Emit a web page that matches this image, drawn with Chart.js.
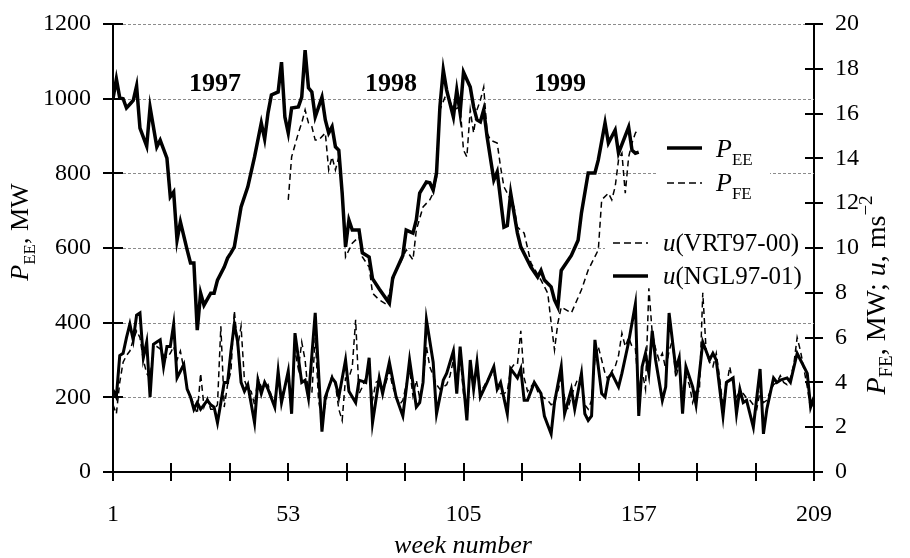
<!DOCTYPE html>
<html>
<head>
<meta charset="utf-8">
<script src="https://cdn.jsdelivr.net/npm/chart.js@4.4.0/dist/chart.umd.min.js"></script>
<style>
  html, body { margin: 0; padding: 0; background: #fff; }
  #wrap { width: 910px; height: 558px; }
</style>
</head>
<body>
<div id="wrap"><canvas id="weeklyChart" width="910" height="558"></canvas></div>
<script>
// Values (week number -> value)
const peeWeeks = [1,2,3,4,5,6,7,8,9,11,12,14,15,17,18,19,20,21,23,24,25,26,27,28,30,31,32,34,35,36,37,39,41,43,45,46,47,48,50,51,52,53,54,56,57,58,59,60,61,63,64,65,66,67,68,69,70,71,72,74,75,77,78,80,83,84,86,87,88,90,91,92,94,95,96,97,98,99,100,102,103,104,105,107,108,109,110,111,112,114,115,117,118,119,121,122,125,127,128,129,131,132,133,134,137,139,140,142,144,145,147,148,150,151,154,155,156,157];
const peeValues = [1000,1053,1002,1000,975,985,995,1034,921,873,977,871,889,841,737,750,621,670,595,560,560,380,479,447,479,479,514,549,573,587,603,710,764,844,935,892,962,1010,1018,1098,951,908,975,978,1004,1130,1029,1018,951,1004,943,908,925,871,862,747,603,675,648,648,587,576,518,490,452,520,560,580,648,640,675,747,777,775,755,801,978,1077,1023,951,1023,962,1071,1031,978,943,938,970,898,782,804,656,660,747,640,603,549,522,540,514,496,461,442,540,580,621,694,801,801,836,935,881,916,854,924,862,854,857];

const pfeWeeks = [53,54,56,57,58,59,60,61,62,64,65,66,67,68,69,70,72,74,75,77,78,80,82,85,86,88,90,91,93,95,96,97,98,100,102,104,105,106,107,108,109,110,111,112,113,115,116,117,118,120,121,123,124,125,128,130,131,132,133,134,137,140,142,145,146,148,149,150,151,152,153,154,155,156,157];
const pfeValues = [729,844,908,935,970,935,925,889,889,908,809,844,809,844,764,576,613,630,576,549,479,461,450,541,555,595,568,648,710,729,747,790,970,1015,970,978,862,844,970,908,970,996,1031,908,889,881,817,764,747,710,656,640,600,560,514,479,400,327,399,442,426,488,541,595,729,747,729,764,836,854,747,844,881,908,920];

const nglWeeks = [1,2,3,4,5,6,7,8,9,10,11,12,13,14,15,16,17,18,19,20,22,23,24,25,26,27,29,30,31,32,34,35,36,37,38,39,40,41,43,44,45,46,47,49,50,51,53,54,55,57,58,59,61,63,64,66,67,68,70,71,73,74,76,77,78,80,81,83,85,87,88,89,91,92,93,94,96,97,99,100,102,103,104,106,107,108,109,110,112,114,115,116,118,119,121,122,123,124,126,128,129,131,132,134,135,137,138,140,141,142,143,144,146,147,148,149,151,152,154,156,157,158,159,160,161,162,164,165,166,168,169,170,171,173,174,175,176,178,179,180,182,183,185,186,187,188,189,191,193,194,195,197,198,199,201,202,204,205,207,208,209];
const nglValues = [3.66,3.35,5.2,5.3,6.0,6.6,5.9,7.0,7.1,5.1,5.8,3.35,5.7,5.8,5.9,4.7,5.6,5.6,6.6,4.2,4.8,3.7,3.35,2.8,3.1,2.8,3.2,3.0,2.9,2.2,4.0,4.0,5.4,6.6,5.8,4.0,3.6,3.9,2.2,4.1,3.5,4.0,3.7,2.9,4.5,3.1,4.5,2.6,6.2,4.0,4.1,3.3,7.1,1.8,3.35,4.2,4.0,3.35,5.0,3.6,3.1,4.1,4.0,5.1,2.2,4.2,3.5,4.9,3.35,2.5,3.7,5.0,2.9,3.1,4.0,6.8,4.9,2.6,4.1,4.4,5.4,3.5,5.6,2.3,5.0,3.7,4.9,3.35,4.0,4.7,3.7,4.0,2.6,4.6,4.2,4.6,3.2,3.2,4.0,3.5,2.5,1.7,3.1,4.7,2.6,3.7,2.8,4.4,2.6,2.3,2.5,5.9,3.5,3.35,4.2,4.4,3.8,4.4,5.8,7.5,2.5,4.7,5.3,4.4,6.3,5.0,3.2,3.8,7.1,4.6,5.1,2.6,4.7,3.8,3.0,4.4,5.8,5.0,5.3,5.0,2.5,4.0,4.2,2.6,3.7,3.1,3.2,2.0,4.6,1.7,2.8,4.2,4.0,4.1,4.2,4.0,5.3,5.0,4.4,2.9,3.35];

// VRT97-00: one value per week, weeks 1..209
const vrtValues = [
  3.0,2.6,4.0,4.9,5.2,5.4,5.9,6.3,6.0,5.0,
  4.4,4.2,5.6,5.6,5.5,5.2,5.1,5.3,5.6,5.0,
  5.4,4.6,3.7,3.4,3.0,2.6,4.4,2.9,3.3,2.8,
  2.8,3.0,6.5,2.9,3.9,4.5,7.2,5.6,6.5,4.1,
  3.7,3.6,3.0,4.2,3.8,3.7,3.9,3.4,3.2,4.2,
  3.4,3.8,4.3,3.0,5.4,4.6,5.8,5.0,3.4,3.5,
  6.0,3.2,2.3,3.0,3.8,4.3,3.9,2.8,2.3,4.2,
  4.2,4.7,6.8,3.5,3.8,4.2,4.7,3.2,4.0,4.1,
  3.7,4.0,4.5,3.8,3.4,3.0,3.2,3.9,4.6,3.4,
  4.1,3.3,4.0,5.6,4.7,4.3,3.9,3.7,3.8,3.9,
  4.3,5.0,3.8,5.2,3.5,2.8,4.6,3.9,4.6,3.6,
  3.8,4.1,4.3,4.4,3.9,3.5,3.5,3.6,4.6,4.8,
  4.8,6.3,4.2,3.6,3.8,4.0,3.6,3.4,3.3,3.2,
  3.0,3.1,3.6,4.2,3.3,2.8,3.4,3.8,4.2,4.2,
  3.0,2.8,3.2,5.0,5.6,5.0,4.4,4.1,4.5,4.7,
  5.2,6.2,5.6,6.0,5.6,5.5,3.6,4.5,3.7,8.2,
  6.2,5.5,5.0,5.3,4.6,5.4,5.9,4.2,4.8,3.4,
  4.3,3.9,3.1,3.6,3.6,8.0,5.4,4.9,4.7,5.3,
  4.2,2.9,3.8,4.7,3.9,3.35,3.6,3.5,3.3,3.2,
  3.0,2.8,3.6,3.1,3.2,3.6,3.9,4.0,4.3,4.0,
  3.9,4.2,4.8,6.0,5.4,4.6,3.8,2.8,3.2
];
const vrtWeeks = vrtValues.map((v, i) => i + 1);

// axis ticks
const xTicks = [1, 18.33, 35.67, 53, 70.33, 87.67, 105, 122.33, 139.67, 157, 174.33, 191.67, 209];
const xLabels = [1, 53, 105, 157, 209];
const yearLabels = ['1997', '1998', '1999'];
const yearWeeks = [31.3, 83.5, 133.6];

const SERIF = '"Liberation Serif", "Times New Roman", serif';
const toPoints = (xs, ys) => xs.map((x, i) => ({ x: x, y: ys[i] }));

function line(ctx, x1, y1, x2, y2) {
    ctx.beginPath();
    ctx.moveTo(x1, y1);
    ctx.lineTo(x2, y2);
    ctx.stroke();
}

// draws a run of text pieces with different fonts (italic, subscripts...)
function drawRich(ctx, parts, x, y, align) {
    let w = 0;
    parts.forEach(p => { ctx.font = p.font; w += ctx.measureText(p.t).width; });
    let cx = align === 'center' ? x - w / 2 : x;
    parts.forEach(p => {
        ctx.font = p.font;
        ctx.fillText(p.t, cx, y + (p.dy || 0));
        cx += ctx.measureText(p.t).width;
    });
}

const big = '26px ' + SERIF, bigI = 'italic 26px ' + SERIF, small = '17px ' + SERIF;
const rBig = '28px ' + SERIF, rBigI = 'italic 28px ' + SERIF, rSmall = '19px ' + SERIF;
const leg = '25px ' + SERIF, legI = 'italic 25px ' + SERIF;

// no extra room for the end tick labels: the plot box is fixed
const noPad = s => { s.paddingTop = 0; s.paddingBottom = 0; s.paddingLeft = 0; s.paddingRight = 0; };

const overlay = {
    id: 'overlay',
    beforeDatasetsDraw(chart) {
        const ctx = chart.ctx;
        const area = chart.chartArea;
        const y = chart.scales.y;
        ctx.save();
        // dashed grid lines
        ctx.strokeStyle = '#8c8c8c';
        ctx.lineWidth = 1;
        ctx.setLineDash([3, 2]);
        y.ticks.forEach(t => {
            if (t.value === 0) return;
            const py = Math.round(y.getPixelForValue(t.value)) + 0.5;
            line(ctx, area.left, py, area.right, py);
        });
        ctx.setLineDash([]);
        // legend backgrounds
        ctx.fillStyle = '#fff';
        ctx.fillRect(658, 128, 112, 78);
        ctx.fillRect(605, 226, 207, 70);
        ctx.restore();
    },
    afterDraw(chart) {
        const ctx = chart.ctx;
        const area = chart.chartArea;
        const { x, y, y1 } = chart.scales;
        ctx.save();
        ctx.strokeStyle = '#000';
        ctx.fillStyle = '#000';
        ctx.lineWidth = 2;
        // tick marks crossing the axes
        x.ticks.forEach(t => {
            const px = Math.round(x.getPixelForValue(t.value));
            line(ctx, px, area.bottom - 9, px, area.bottom + 9);
        });
        y.ticks.forEach(t => {
            const py = Math.round(y.getPixelForValue(t.value));
            line(ctx, area.left - 10, py, area.left + 10, py);
        });
        y1.ticks.forEach(t => {
            const py = Math.round(y1.getPixelForValue(t.value));
            line(ctx, area.right - 9, py, area.right + 9, py);
        });

        // year labels
        ctx.font = 'bold 26px ' + SERIF;
        ctx.textAlign = 'center';
        ctx.textBaseline = 'alphabetic';
        yearLabels.forEach((s, i) => {
            ctx.fillText(s, x.getPixelForValue(yearWeeks[i]), 91);
        });
        ctx.textAlign = 'left';

        // legend
        ctx.lineWidth = 3.5;
        line(ctx, 667, 148, 702, 148);
        drawRich(ctx, [{ t: 'P', font: bigI }, { t: 'EE', font: small, dy: 8 }], 716, 157);
        ctx.lineWidth = 1.5;
        ctx.setLineDash([7, 4]);
        line(ctx, 667, 183, 702, 183);
        line(ctx, 613, 243, 648, 243);
        ctx.setLineDash([]);
        drawRich(ctx, [{ t: 'P', font: bigI }, { t: 'FE', font: small, dy: 8 }], 716, 191);
        drawRich(ctx, [{ t: 'u', font: legI }, { t: '(VRT97-00)', font: leg }], 663, 251);
        ctx.lineWidth = 3.5;
        line(ctx, 613, 276, 648, 276);
        drawRich(ctx, [{ t: 'u', font: legI }, { t: '(NGL97-01)', font: leg }], 663, 284);

        // axis titles
        ctx.save();
        ctx.translate(20, 232);
        ctx.rotate(-Math.PI / 2);
        drawRich(ctx, [
            { t: 'P', font: bigI }, { t: 'EE', font: small, dy: 7 }, { t: ', MW', font: big }
        ], 0, 8, 'center');
        ctx.restore();

        ctx.save();
        ctx.translate(876, 295);
        ctx.rotate(-Math.PI / 2);
        drawRich(ctx, [
            { t: 'P', font: rBigI }, { t: 'FE', font: rSmall, dy: 7 }, { t: ', MW; ', font: rBig },
            { t: 'u', font: rBigI }, { t: ', ms', font: rBig }, { t: '\u22122', font: rSmall, dy: -13 }
        ], 0, 9, 'center');
        ctx.restore();

        ctx.font = bigI;
        ctx.textAlign = 'center';
        ctx.fillText('week number', 463, 553);
        ctx.restore();
    }
};

const tickFont = { family: SERIF, size: 24 };

const ctx = document.getElementById('weeklyChart').getContext('2d');
const weeklyChart = new Chart(ctx, {
    type: 'line',
    data: {
        datasets: [
            {
                label: 'P_EE',
                data: toPoints(peeWeeks, peeValues),
                yAxisID: 'y',
                borderColor: '#000',
                borderWidth: 3.5,
                pointRadius: 0,
                tension: 0,
            },
            {
                label: 'P_FE',
                data: toPoints(pfeWeeks, pfeValues),
                yAxisID: 'y',
                borderColor: '#000',
                borderWidth: 1.5,
                borderDash: [6, 4],
                pointRadius: 0,
                tension: 0,
            },
            {
                label: 'u (VRT97-00)',
                data: toPoints(vrtWeeks, vrtValues),
                yAxisID: 'y1',
                borderColor: '#000',
                borderWidth: 1.5,
                borderDash: [6, 4],
                pointRadius: 0,
                tension: 0,
            },
            {
                label: 'u (NGL97-01)',
                data: toPoints(nglWeeks, nglValues),
                yAxisID: 'y1',
                borderColor: '#000',
                borderWidth: 3,
                pointRadius: 0,
                tension: 0,
            }
        ]
    },
    options: {
        responsive: false,
        animation: false,
        devicePixelRatio: 1,
        layout: { padding: { top: 24, left: 0, right: 0, bottom: 0 } },
        scales: {
            x: {
                type: 'linear',
                min: 1,
                max: 209,
                afterBuildTicks: s => { s.ticks = xTicks.map(v => ({ value: v })); },
                afterFit: s => { s.height = 86; noPad(s); },
                grid: { display: false, drawTicks: false },
                border: { display: true, color: '#000', width: 2 },
                ticks: {
                    autoSkip: false,
                    maxRotation: 0,
                    padding: 28,
                    color: '#000',
                    font: tickFont,
                    callback: v => xLabels.includes(v) ? String(v) : ''
                }
            },
            y: {
                position: 'left',
                min: 0,
                max: 1200,
                afterFit: s => { s.width = 113; noPad(s); },
                grid: { display: false, drawTicks: false },
                border: { display: true, color: '#000', width: 2 },
                ticks: { stepSize: 200, padding: 22, color: '#000', font: tickFont, callback: v => String(v) }
            },
            y1: {
                position: 'right',
                min: 0,
                max: 20,
                afterFit: s => { s.width = 96; noPad(s); },
                grid: { display: false, drawTicks: false },
                border: { display: true, color: '#000', width: 2 },
                ticks: { stepSize: 2, padding: 21, color: '#000', font: tickFont, callback: v => String(v) }
            }
        },
        plugins: {
            legend: { display: false },
            tooltip: { enabled: false }
        }
    },
    plugins: [overlay]
});
</script>
</body>
</html>
